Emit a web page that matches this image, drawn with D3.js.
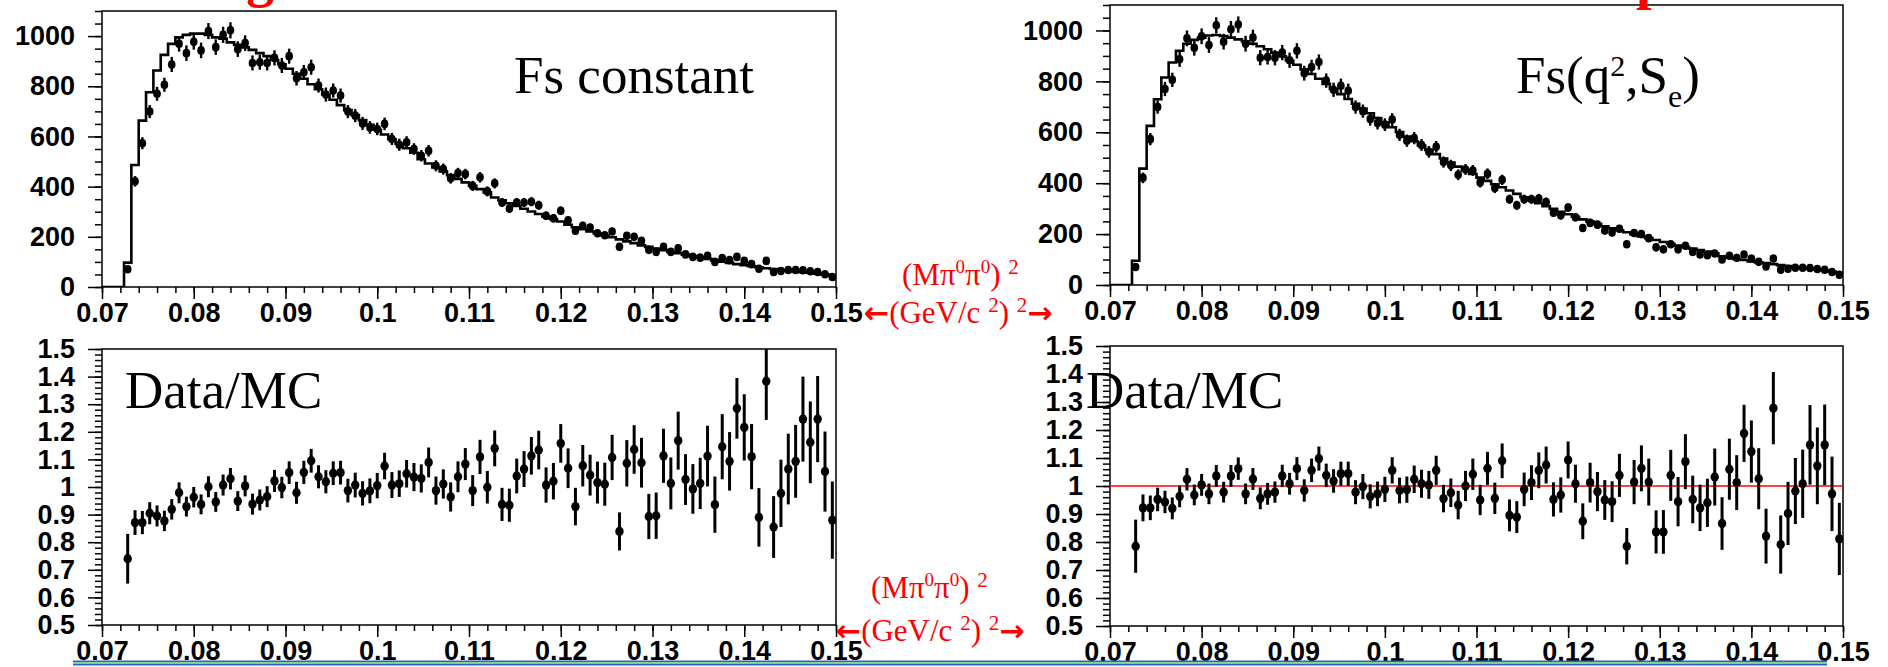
<!DOCTYPE html>
<html><head><meta charset="utf-8">
<script src="https://cdn.jsdelivr.net/npm/d3@7/dist/d3.min.js"></script>
<style>body{margin:0;background:#fff}svg{display:block}</style>
</head><body>
<script>
// ---------- histogram definition ----------
const histMin = 0.07, histMax = 0.15, nBins = 100, firstFilledBin = 3;

// ---------- tick values / labels ----------
const xTicks = [0.07,0.08,0.09,0.10,0.11,0.12,0.13,0.14,0.15];
const xTickLabels = ["0.07","0.08","0.09","0.1","0.11","0.12","0.13","0.14","0.15"];
const yTicksTop = [0,200,400,600,800,1000];
const yTickLabelsTop = ["0","200","400","600","800","1000"];
const yTicksRatio = [0.5,0.6,0.7,0.8,0.9,1.0,1.1,1.2,1.3,1.4,1.5];
const yTickLabelsRatio = ["0.5","0.6","0.7","0.8","0.9","1","1.1","1.2","1.3","1.4","1.5"];

// ---------- data (bins 3..99) ----------
const dataCounts = [71,421,573,699,770,806,887,969,932,977,
943,1020,956,1005,1023,948,972,893,896,893,
913,883,920,832,856,876,803,767,783,763,
699,683,652,636,630,650,590,567,577,550,
523,543,483,470,433,454,450,403,437,381,
413,337,313,337,337,340,326,284,274,304,
266,224,244,237,214,206,221,160,204,200,
184,148,140,160,140,154,130,120,117,124,
100,115,107,120,104,91,73,104,60,64,
68,68,67,63,60,51,40];
const dataErr = [8,21,24,26,28,28,30,31,31,31,
31,32,31,32,32,31,31,30,30,30,
30,30,30,29,29,30,28,28,28,28,
26,26,26,25,25,25,24,24,24,23,
23,23,22,22,21,21,21,20,21,20,
20,18,18,18,18,18,18,17,17,17,
16,15,16,15,15,14,15,13,14,14,
14,12,12,13,12,12,11,11,11,11,
10,11,10,11,10,10,9,10,8,8,
8,8,8,8,8,7,6];
// MC histogram, Fs constant (bins 3..99)
const mcConst = [97,486,663,776,863,925,969,995,1005,1010,
1010,1005,995,990,975,965,955,945,932,920,
905,888,870,850,830,808,788,767,746,725,
705,685,665,646,627,608,589,571,553,535,
509,492,476,461,446,431,417,403,390,377,
357,346,334,323,312,301,291,280,271,261,
248,238,230,221,213,205,198,190,182,175,
166,160,153,147,140,135,129,123,118,112,
106,101,96,91,87,83,79,75,72,68,
65,62,59,57,53,50,44];
// MC histogram, Fs(q2,Se) (bins 3..99)
const mcFs = [95,457,625,730,815,874,920,948,963,972,
980,982,978,972,965,957,948,938,926,913,
898,882,865,847,829,810,790,770,750,731,
712,693,675,656,638,620,601,583,565,548,
531,514,497,481,465,450,436,422,409,396,
384,371,358,345,333,321,310,299,288,278,
268,258,249,240,231,223,215,207,199,191,
184,177,169,162,155,149,143,137,131,125,
113,107,102,98,93,89,86,82,78,74,
71,68,64,61,57,53,47];
// Data/MC ratios
const ratioConst = [0.740,0.871,0.871,0.905,0.895,0.877,0.919,0.979,0.929,0.963,
0.937,1.001,0.946,1.007,1.030,0.949,1.004,0.938,0.953,0.965,
1.022,0.998,1.052,0.979,1.053,1.095,1.037,1.019,1.050,1.052,
0.987,1.007,0.977,0.986,1.005,1.076,1.007,1.012,1.048,1.036,
1.031,1.089,0.987,1.011,0.964,1.037,1.083,0.987,1.109,0.999,
1.140,0.937,0.934,1.040,1.065,1.113,1.134,1.007,1.021,1.158,
1.068,0.929,1.077,1.043,1.016,1.010,1.107,0.839,1.086,1.136,
1.088,0.893,0.896,1.113,1.013,1.168,1.027,0.993,1.013,1.112,
0.936,1.146,1.093,1.285,1.216,1.110,0.890,1.383,0.855,0.977,
1.065,1.093,1.246,1.162,1.246,1.056,0.880];
const ratioConstErr = [0.090,0.045,0.042,0.040,0.038,0.037,0.037,0.038,0.036,0.037,
0.036,0.038,0.036,0.038,0.039,0.036,0.038,0.038,0.038,0.038,
0.040,0.039,0.041,0.040,0.042,0.043,0.042,0.042,0.043,0.043,
0.043,0.045,0.044,0.045,0.046,0.048,0.047,0.048,0.050,0.051,
0.051,0.054,0.051,0.053,0.053,0.056,0.058,0.056,0.062,0.059,
0.065,0.060,0.060,0.063,0.065,0.068,0.070,0.064,0.066,0.070,
0.072,0.068,0.075,0.074,0.076,0.078,0.082,0.069,0.084,0.088,
0.090,0.082,0.084,0.098,0.094,0.105,0.092,0.090,0.093,0.110,
0.102,0.118,0.106,0.110,0.120,0.118,0.106,0.140,0.112,0.122,
0.128,0.132,0.154,0.148,0.156,0.145,0.140];
const ratioFs = [0.785,0.922,0.922,0.952,0.943,0.920,0.963,1.024,0.968,1.004,
0.972,1.036,0.978,1.036,1.062,0.972,1.025,0.956,0.972,0.978,
1.036,1.008,1.062,0.984,1.056,1.098,1.038,1.018,1.044,1.044,
0.978,0.998,0.963,0.972,0.988,1.056,0.984,0.987,1.024,1.008,
1.004,1.056,0.955,0.976,0.932,1.000,1.042,0.950,1.063,0.956,
1.090,0.895,0.889,0.988,1.012,1.056,1.075,0.952,0.968,1.093,
1.008,0.874,1.012,0.980,0.950,0.944,1.038,0.785,1.014,1.063,
1.014,0.836,0.836,1.038,0.944,1.087,0.952,0.922,0.940,1.032,
0.866,1.060,1.012,1.188,1.123,1.026,0.821,1.278,0.791,0.902,
0.982,1.008,1.147,1.072,1.147,0.972,0.811];
const ratioFsErr = [0.095,0.048,0.044,0.042,0.040,0.039,0.039,0.040,0.037,0.039,
0.037,0.039,0.037,0.039,0.040,0.037,0.039,0.039,0.039,0.038,
0.040,0.039,0.041,0.040,0.042,0.043,0.042,0.042,0.043,0.043,
0.043,0.045,0.043,0.044,0.045,0.047,0.046,0.047,0.049,0.050,
0.050,0.052,0.049,0.051,0.051,0.054,0.056,0.054,0.059,0.056,
0.062,0.057,0.057,0.060,0.062,0.064,0.066,0.061,0.063,0.066,
0.068,0.064,0.071,0.070,0.071,0.073,0.077,0.065,0.079,0.082,
0.084,0.077,0.078,0.091,0.088,0.098,0.085,0.083,0.086,0.102,
0.094,0.109,0.098,0.102,0.111,0.109,0.098,0.129,0.104,0.113,
0.118,0.122,0.142,0.137,0.144,0.133,0.129];

// ---------- drawing ----------
const W = 1888, H = 667;
const binW = (histMax - histMin) / nBins;
const svg = d3.select('body').append('svg').attr('width', W).attr('height', H);
const AX_FONT = "'Liberation Sans', Arial, sans-serif";
const SERIF = "'Liberation Serif', 'Times New Roman', serif";
const ARROW_FONT = "'DejaVu Sans', sans-serif";

const xMinor = d3.range(41).map(i => histMin + i * 0.002);
const yMinorTop = d3.range(23).map(i => i * 50);
const yMinorRatio = d3.range(51).map(i => 0.5 + i * 0.02);

function styleAxis(g) {
  g.select('.domain').remove();
  g.selectAll('line').attr('stroke', '#000').attr('stroke-width', 1.5);
  g.attr('font-size', 27).attr('font-family', AX_FONT).attr('font-weight', 'bold');
  g.selectAll('text').attr('fill', '#000');
}

let clipId = 0;
function panel(p) {
  const xs = d3.scaleLinear().domain([histMin, histMax]).range([p.x0, p.x1]);
  const ys = d3.scaleLinear().domain(p.yDom).range([p.yB, p.yT]);
  const g = svg.append('g');
  g.append('g').attr('transform', `translate(0,${p.yB})`)
    .call(d3.axisBottom(xs).tickValues(xMinor).tickSize(6).tickFormat('').tickSizeOuter(0)).call(styleAxis);
  g.append('g').attr('transform', `translate(0,${p.yB})`)
    .call(d3.axisBottom(xs).tickValues(xTicks).tickSize(12).tickPadding(4)
      .tickFormat((d, i) => xTickLabels[i]).tickSizeOuter(0)).call(styleAxis);
  g.append('g').attr('transform', `translate(${p.x0},0)`)
    .call(d3.axisLeft(ys).tickValues(p.yMinor).tickSize(7).tickFormat('').tickSizeOuter(0)).call(styleAxis);
  g.append('g').attr('transform', `translate(${p.x0},0)`)
    .call(d3.axisLeft(ys).tickValues(p.yMajor).tickSize(14).tickPadding(13)
      .tickFormat((d, i) => p.yLabels[i]).tickSizeOuter(0)).call(styleAxis);
  g.append('rect').attr('x', p.x0).attr('y', p.yT).attr('width', p.x1 - p.x0).attr('height', p.yB - p.yT)
    .attr('fill', 'none').attr('stroke', '#000').attr('stroke-width', 1.5);

  const id = 'clip' + (clipId++);
  svg.append('clipPath').attr('id', id).append('rect')
    .attr('x', p.x0).attr('y', p.yT).attr('width', p.x1 - p.x0).attr('height', p.yB - p.yT);
  const pg = g.append('g').attr('clip-path', `url(#${id})`);

  if (p.refLine !== undefined) {
    pg.append('line').attr('x1', p.x0).attr('x2', p.x1)
      .attr('y1', ys(p.refLine)).attr('y2', ys(p.refLine))
      .attr('stroke', '#ff0000').attr('stroke-width', 1.5);
  }
  if (p.hist) {
    const val = i => i < firstFilledBin ? 0 : p.hist[i - firstFilledBin];
    const pts = d3.range(nBins + 1).map(i => [histMin + i * binW, val(Math.min(i, nBins - 1))]);
    pg.append('path').datum(pts)
      .attr('d', d3.line().x(d => xs(d[0])).y(d => ys(d[1])).curve(d3.curveStepAfter))
      .attr('fill', 'none').attr('stroke', '#000').attr('stroke-width', 2.6);
  }
  const pts = p.vals.map((v, k) => ({x: histMin + (k + firstFilledBin + 0.5) * binW, v, e: p.errs[k]}));
  pg.selectAll('line.err').data(pts).join('line').attr('class', 'err')
    .attr('x1', d => xs(d.x)).attr('x2', d => xs(d.x))
    .attr('y1', d => ys(d.v - d.e)).attr('y2', d => ys(d.v + d.e))
    .attr('stroke', '#000').attr('stroke-width', p.errW);
  pg.selectAll('ellipse.pt').data(pts).join('ellipse').attr('class', 'pt')
    .attr('cx', d => xs(d.x)).attr('cy', d => ys(d.v)).attr('rx', p.mr).attr('ry', p.mr + 0.5).attr('fill', '#000');
}

panel({x0: 102, x1: 836, yT: 11, yB: 287, yDom: [0, 1100], yMajor: yTicksTop, yLabels: yTickLabelsTop,
  yMinor: yMinorTop, hist: mcConst, vals: dataCounts, errs: dataErr, errW: 2.4, mr: 3.8});
panel({x0: 1110, x1: 1843, yT: 5, yB: 285, yDom: [0, 1100], yMajor: yTicksTop, yLabels: yTickLabelsTop,
  yMinor: yMinorTop, hist: mcFs, vals: dataCounts, errs: dataErr, errW: 2.4, mr: 3.8});
panel({x0: 102, x1: 836, yT: 349, yB: 625, yDom: [0.5, 1.5], yMajor: yTicksRatio, yLabels: yTickLabelsRatio,
  yMinor: yMinorRatio, vals: ratioConst, errs: ratioConstErr, errW: 3, mr: 4.2});
panel({x0: 1110, x1: 1843, yT: 346, yB: 626, yDom: [0.5, 1.5], yMajor: yTicksRatio, yLabels: yTickLabelsRatio,
  yMinor: yMinorRatio, vals: ratioFs, errs: ratioFsErr, errW: 3, mr: 4.2, refLine: 1.0});

// ---------- panel labels ----------
function serifText(x, y, size) {
  return svg.append('text').attr('x', x).attr('y', y).attr('font-family', SERIF)
    .attr('font-size', size).attr('fill', '#000');
}
serifText(514, 93, 53).text('Fs constant');
const fs = serifText(1516, 93, 53);
fs.append('tspan').text('Fs(q');
fs.append('tspan').attr('font-size', 30).attr('dy', -17).text('2');
fs.append('tspan').attr('dy', 17).text(',S');
fs.append('tspan').attr('font-size', 32).attr('dy', 14).text('e');
fs.append('tspan').attr('dy', -14).text(')');
serifText(125, 408, 53).text('Data/MC');
serifText(1086, 408, 53).text('Data/MC');

// ---------- red axis titles ----------
function redTitle(x1, y1, x2, y2) {
  const t1 = svg.append('text').attr('x', x1).attr('y', y1).attr('font-family', SERIF)
    .attr('font-size', 31).attr('fill', '#ff0000');
  t1.append('tspan').text('(Mπ');
  t1.append('tspan').attr('font-size', 19).attr('dy', -12).text('0');
  t1.append('tspan').attr('dy', 12).text('π');
  t1.append('tspan').attr('font-size', 19).attr('dy', -12).text('0');
  t1.append('tspan').attr('dy', 12).text(')\u00a0');
  t1.append('tspan').attr('font-size', 21).attr('dy', -11).text('2');
  const t2 = svg.append('text').attr('x', x2).attr('y', y2).attr('font-family', SERIF)
    .attr('font-size', 31).attr('fill', '#ff0000');
  t2.append('tspan').attr('font-family', ARROW_FONT).attr('font-weight', 'bold').attr('font-size', 30).text('←');
  t2.append('tspan').text('(GeV/c\u00a0');
  t2.append('tspan').attr('font-size', 21).attr('dy', -11).text('2');
  t2.append('tspan').attr('dy', 11).text(')\u00a0');
  t2.append('tspan').attr('font-size', 21).attr('dy', -11).text('2');
  t2.append('tspan').attr('dy', 11).attr('font-family', ARROW_FONT).attr('font-weight', 'bold').attr('font-size', 30).text('→');
}
redTitle(902, 285, 864, 323);
redTitle(871, 598, 836, 641);

// cut-off slide title fragments at top
svg.append('text').attr('x', 246).attr('y', -4).attr('font-family', SERIF).attr('font-weight', 'bold')
  .attr('font-size', 56).attr('fill', '#ff0000').text('g');
svg.append('text').attr('x', 1636).attr('y', -2).attr('font-family', SERIF).attr('font-weight', 'bold')
  .attr('font-size', 56).attr('fill', '#ff0000').text('p');

// slide rule at bottom
svg.append('rect').attr('x', 73).attr('y', 660.5).attr('width', 1754).attr('height', 1.6).attr('fill', '#2f62d0');
svg.append('rect').attr('x', 73).attr('y', 662.1).attr('width', 1754).attr('height', 1.8).attr('fill', '#7fd17f');
svg.append('rect').attr('x', 73).attr('y', 663.9).attr('width', 1754).attr('height', 1.6).attr('fill', '#2f62d0');
</script>
</body></html>
